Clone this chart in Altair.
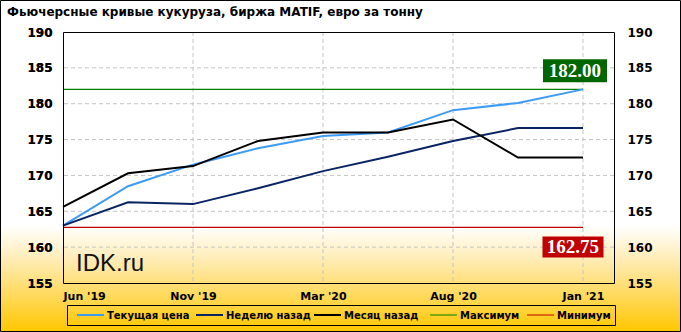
import json
import altair as alt
import pandas as pd

x_labels = ["Jun '19", "Aug '19", "Nov '19", "Jan '20", "Mar '20", "Jun '20", "Aug '20", "Nov '20", "Jan '21"]
current = [163.0, 168.5, 171.5, 173.8, 175.5, 176.0, 179.1, 180.1, 182.0]
week_ago = [163.0, 166.25, 166.0, 168.2, 170.6, 172.6, 174.8, 176.6, 176.6]
month_ago = [165.6, 170.3, 171.3, 174.8, 176.0, 176.0, 177.8, 172.5, 172.5]
max_val = 182.00
min_val = 162.75

series_names = ["Текущая цена", "Неделю назад", "Месяц назад", "Максимум", "Минимум"]
series_colors = ["#3D9BF5", "#0A2463", "#000000", "#008000", "#C00000"]
series_widths = [2, 2, 2, 1, 1]

yticks = [155, 160, 165, 170, 175, 180, 185, 190]
xticks = [0, 2, 4, 6, 8]
title_text = "Фьючерсные кривые кукуруза, биржа MATIF, евро за тонну"

# legend layout (pixels relative to the plot area)
legend_sym_x = [14, 133, 251, 367, 464]
legend_sym_len = 27
legend_txt_gap = 3
legend_box = (4, 552, 273, 293)

rows_main, rows_ext = [], []
for i in range(len(x_labels)):
    rows_main.append({"idx": i, "series": series_names[0], "value": current[i]})
    rows_main.append({"idx": i, "series": series_names[1], "value": week_ago[i]})
    rows_main.append({"idx": i, "series": series_names[2], "value": month_ago[i]})
    rows_ext.append({"idx": i, "series": series_names[3], "value": max_val})
    rows_ext.append({"idx": i, "series": series_names[4], "value": min_val})
df_main = pd.DataFrame(rows_main)
df_ext = pd.DataFrame(rows_ext)

W, H = 551, 251
PL, PT, PR, PB = 63, 32, 67, 49
FONT = "DejaVu Sans"

xscale = alt.Scale(domain=[0, 8.477], nice=False, zero=False)
yscale = alt.Scale(domain=[155, 190], nice=False, zero=False)
cscale = alt.Scale(domain=series_names, range=series_colors)

label_expr = json.dumps(x_labels, ensure_ascii=False) + "[datum.value]"

x_axis = alt.Axis(values=xticks, labelExpr=label_expr, title=None,
                  ticks=False, domain=False, grid=False, labelFont=FONT,
                  labelFontWeight="bold", labelFontSize=11, labelPadding=7,
                  labelColor="#000000", zindex=2)


def xe(field):
    return alt.X(field, scale=xscale, axis=x_axis)


def ye(field):
    return alt.Y(field, scale=yscale, axis=None)


bg_grad = alt.Gradient(
    gradient="linear",
    stops=[
        alt.GradientStop(color="#FFFFFF", offset=0),
        alt.GradientStop(color="#FFFFFF", offset=0.68),
        alt.GradientStop(color="#FFEBB0", offset=0.79),
        alt.GradientStop(color="#FFD855", offset=0.9),
        alt.GradientStop(color="#FFC700", offset=1),
    ],
    x1=0, x2=0, y1=0, y2=1,
)

one = pd.DataFrame({"k": [0]})

background = alt.Chart(one).mark_rect(fill=bg_grad, stroke="#000000", strokeWidth=1).encode(
    x=alt.value(-PL + 0.5), x2=alt.value(W + PR - 0.5),
    y=alt.value(-PT + 0.5), y2=alt.value(H + PB - 0.5),
)

title_mark = alt.Chart(pd.DataFrame({"t": [title_text]})).mark_text(
    font=FONT, fontSize=12, fontWeight="bold", color="#000000", align="left", baseline="middle"
).encode(x=alt.value(-PL + 7), y=alt.value(-PT + 12), text="t:N")

grid_style = dict(color="#C4C4C4", strokeWidth=1, strokeDash=[4, 3])
hgrid = alt.Chart(pd.DataFrame({"v": yticks[1:-1]})).mark_rule(**grid_style).encode(
    y=ye("v:Q")
)
vgrid = alt.Chart(pd.DataFrame({"v": xticks[1:]})).mark_rule(**grid_style).encode(
    x=xe("v:Q")
)

y_left = alt.Y("value:Q", scale=yscale,
               axis=alt.Axis(values=yticks, title=None, ticks=False, domain=False, grid=False,
                             labelFont=FONT, labelFontWeight="bold", labelFontSize=12,
                             labelPadding=11, labelColor="#000000", orient="left", zindex=2))

ext_lines = alt.Chart(df_ext).mark_line(strokeWidth=1.2).encode(
    x=xe("idx:Q"), y=y_left, color=alt.Color("series:N", scale=cscale, legend=None),
    detail="series:N",
)
main_lines = alt.Chart(df_main).mark_line(strokeWidth=2).encode(
    x=xe("idx:Q"), y=y_left, color=alt.Color("series:N", scale=cscale, legend=None),
    detail="series:N",
)

right_axis = alt.Chart(df_main).mark_point(opacity=0).encode(
    x=xe("idx:Q"),
    y=alt.Y("value:Q", scale=yscale,
            axis=alt.Axis(values=yticks, title=None, ticks=False, domain=False, grid=False,
                          labelFont=FONT, labelFontWeight="bold", labelFontSize=12,
                          labelPadding=13, labelColor="#000000", orient="right", zindex=2)),
)

labels_df = pd.DataFrame({
    "idx": [8, 8],
    "value": [max_val, min_val],
    "txt": ["%.2f" % max_val, "%.2f" % min_val],
    "kind": ["max", "min"],
})

max_box = alt.Chart(labels_df[labels_df.kind == "max"]).mark_rect(
    width=64, height=23, xOffset=-8, yOffset=-18.5, color="#006600"
).encode(x=xe("idx:Q"), y=ye("value:Q"))
min_box = alt.Chart(labels_df[labels_df.kind == "min"]).mark_rect(
    width=61, height=21, xOffset=-10, yOffset=19.5, color="#C00000"
).encode(x=xe("idx:Q"), y=ye("value:Q"))
max_txt = alt.Chart(labels_df[labels_df.kind == "max"]).mark_text(
    font="Liberation Serif", fontWeight="bold", fontSize=19, color="#FFFFFF",
    dx=-8, dy=-18, baseline="middle", align="center"
).encode(x=xe("idx:Q"), y=ye("value:Q"), text="txt:N")
min_txt = alt.Chart(labels_df[labels_df.kind == "min"]).mark_text(
    font="Liberation Serif", fontWeight="bold", fontSize=19, color="#FFFFFF",
    dx=-10, dy=20, baseline="middle", align="center"
).encode(x=xe("idx:Q"), y=ye("value:Q"), text="txt:N")

brand_df = pd.DataFrame({"idx": [0], "value": [155], "txt": ["IDK.ru"]})
brand = alt.Chart(brand_df).mark_text(
    font="Liberation Sans", fontSize=24, color="#111111", align="left", baseline="alphabetic",
    dx=13, dy=-12
).encode(x=xe("idx:Q"), y=ye("value:Q"), text="txt:N")

frame = alt.Chart(one).mark_rect(fill=None, stroke="#000000", strokeWidth=1).encode(
    x=alt.value(0.5), x2=alt.value(W + 0.5), y=alt.value(0.5), y2=alt.value(H + 0.5),
)

# legend built from the series lists
leg_df = pd.DataFrame({
    "name": series_names,
    "color": series_colors,
    "sw": series_widths,
    "sx": legend_sym_x,
    "sx2": [v + legend_sym_len for v in legend_sym_x],
    "tx": [v + legend_sym_len + legend_txt_gap for v in legend_sym_x],
})
leg_y = (legend_box[2] + legend_box[3]) / 2
leg_frame = alt.Chart(one).mark_rect(fill=None, stroke="#000000", strokeWidth=1).encode(
    x=alt.value(legend_box[0] + 0.5), x2=alt.value(legend_box[1] + 0.5),
    y=alt.value(legend_box[2] + 0.5), y2=alt.value(legend_box[3] + 0.5),
)
leg_sym = alt.Chart(leg_df).mark_rule().encode(
    x=alt.X("sx:Q", scale=None), x2="sx2:Q", y=alt.value(leg_y),
    color=alt.Color("color:N", scale=None), strokeWidth=alt.StrokeWidth("sw:Q", scale=None),
)
leg_txt = alt.Chart(leg_df).mark_text(
    font=FONT, fontWeight="bold", fontSize=10, color="#000000", align="left", baseline="middle"
).encode(x=alt.X("tx:Q", scale=None), y=alt.value(leg_y + 0.5), text="name:N")

chart = alt.layer(
    background, title_mark, hgrid, vgrid, ext_lines, main_lines, right_axis,
    max_box, min_box, max_txt, min_txt, brand, frame, leg_frame, leg_sym, leg_txt
).resolve_axis(y="independent").properties(
    width=W, height=H,
    autosize=alt.AutoSizeParams(type="none"),
    padding={"left": PL, "top": PT, "right": PR, "bottom": PB},
).configure_view(stroke=None, fill=None)

chart.save("out.html", embed_options={"renderer": "svg", "actions": False})
